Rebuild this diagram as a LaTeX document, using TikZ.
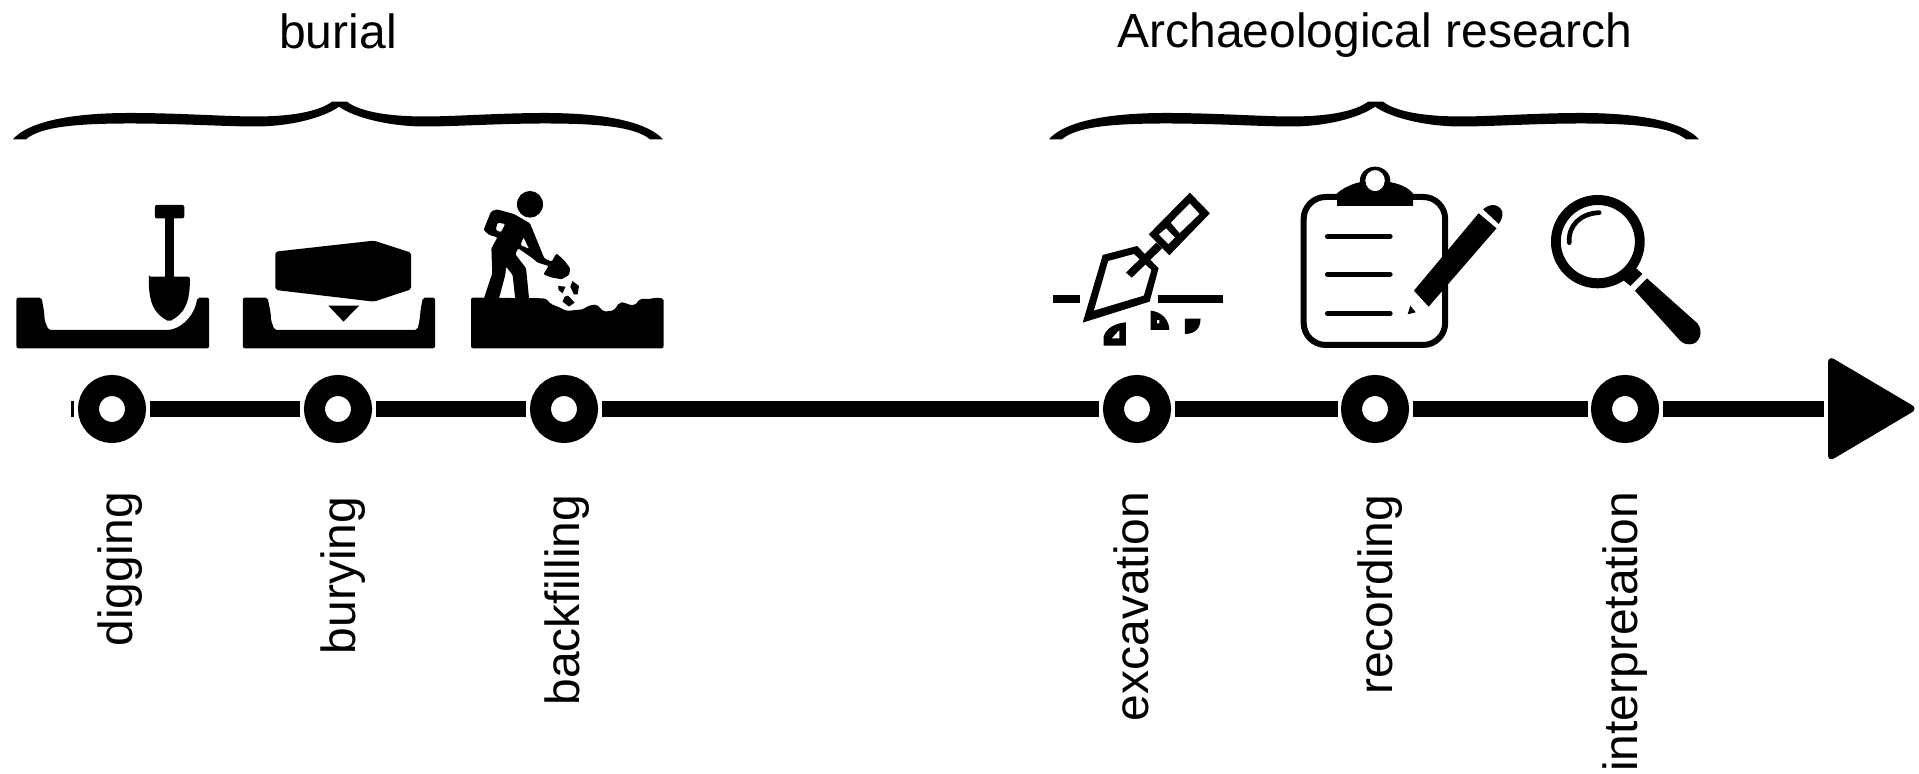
\documentclass[tikz,border=0pt]{standalone}
\usepackage{fontspec}
\setmainfont{Liberation Sans}
\usepackage{tikz}
\usetikzlibrary{arrows.meta,positioning,calc}

\begin{document}
\begin{tikzpicture}[
  x=0.01cm, y=-0.01cm,
  stop/.style={circle, draw=black, line width=0.21cm, fill=white, minimum size=0.47cm, inner sep=0pt},
  axis/.style={line width=0.166cm, shorten >=0.035cm, shorten <=0.035cm},
  phase/.style={font=\fontsize{13.65}{16}\selectfont, anchor=base, inner sep=0pt},
  lab/.style={font=\fontsize{13.65}{16}\selectfont, rotate=90, anchor=base east, inner sep=0pt},
  icon/.style={fill=black, rounded corners=0.02cm},
  thin line/.style={draw=black, line width=0.047cm, line cap=round}
]
\useasboundingbox (0,0) rectangle (1919,774);

% Timeline stops
\foreach \name/\x/\bx/\by in {digging/112/132.3/491,burying/338/355.5/496,backfilling/564/579.3/494,excavation/1137/1148.2/491,recording/1375/1392.9/494,interpretation/1625/1637.5/491} {
  \node[stop] (\name) at (\x,409) {};
  \node[lab] (lab-\name) at (\bx,\by) {\name};
}
\coordinate (tail) at (67.2,409);
\coordinate (tip) at (1827.5,409);

% Shift arrows
\foreach \a/\b in {tail/digging,digging/burying,burying/backfilling,backfilling/excavation,excavation/recording,recording/interpretation,interpretation/tip} {
  \draw[axis] (\a) -- (\b);
}
\fill[rounded corners=0.07cm] (1828,355.5) -- (1918,408.7) -- (1828,462) -- cycle;

% Phase titles
\node[phase] (burial) at (338,48.3) {burial};
\node[phase] (research) at (1375,47.7) {Archaeological research};

% Braces
\foreach \dx in {0,1036} {
  \fill[shift={(\dx,0)}] (13,139.3) .. controls (25,125) and (60,113) .. (130,113)
    .. controls (180,113) and (225,116.5) .. (255,116.5)
    .. controls (290,116.5) and (318,112) .. (332,101.7) -- (347,101.7)
    .. controls (360,112) and (390,116.5) .. (425,116.5)
    .. controls (455,116.5) and (500,113) .. (545,113)
    .. controls (615,113) and (650,125) .. (663,139.3) -- (650,139.3)
    .. controls (635,127) and (600,123.5) .. (545,123.5)
    .. controls (500,123.5) and (455,126.5) .. (425,126.5)
    .. controls (390,126.5) and (355,118) .. (339,106.7)
    .. controls (323,118) and (290,126.5) .. (255,126.5)
    .. controls (225,126.5) and (180,123.5) .. (130,123.5)
    .. controls (75,123.5) and (40,127) .. (26,139.3) -- cycle;
}

% Burial icons
\begin{scope}[shift={(0,180)}, xscale=0.4337, yscale=0.3333]
  % pit and spade
  \fill[icon] (38,353) -- (96,353) -- (102,398) -- (103,422) -- (112,450) -- (390,450)
    .. controls (425,440) and (450,400) .. (455,353) -- (482,353) -- (482,505) -- (38,505) -- cycle;
  \fill[icon] (357,75) rectangle (425,115);
  \fill (381,110) rectangle (401,295);
  \fill[icon] (343,290) -- (438,290) .. controls (438,370) and (425,400) .. (390,425)
    .. controls (355,400) and (343,370) .. (343,290) -- cycle;
  % pit and coffin
  \fill[icon] (560,353) -- (617,353) -- (624,398) -- (625,422) -- (633,450) -- (962,450) -- (967,425)
    -- (970,388) -- (975,353) -- (1003,353) -- (1003,505) -- (560,505) -- cycle;
  \fill[icon] (635,215) -- (862,182) -- (948,218) -- (948,328) -- (862,365) -- (635,330) -- cycle;
  \fill (757,377) -- (828,377) -- (792,425) -- cycle;
  % ground and worker
  \fill[icon] (1086,353) -- (1258,355) -- (1270,372) -- (1295,385) -- (1305,393) -- (1345,388) -- (1355,378)
    -- (1375,373) -- (1392,395) -- (1415,392) -- (1428,368) -- (1440,367) -- (1450,375) -- (1465,375)
    -- (1475,357) -- (1500,357) -- (1510,353) -- (1530,355) -- (1530,505) -- (1086,505) -- cycle;
  \fill (1222,73) ellipse [x radius=30, y radius=40];
  \fill[even odd rule, rounded corners=0.012cm] (1115,358) -- (1135,280) -- (1133,205) -- (1147,172) -- (1128,165) -- (1115,150)
    -- (1132,95) -- (1145,88) -- (1185,102) -- (1222,130) -- (1255,235) -- (1272,245) -- (1283,220)
    -- (1300,240) -- (1315,265) -- (1312,285) -- (1295,298) -- (1270,292) -- (1253,283) -- (1265,258)
    -- (1240,248) -- (1228,235) -- (1195,205) -- (1188,222) -- (1213,265) -- (1220,358) -- (1188,358)
    -- (1182,285) -- (1167,260) -- (1165,285) -- (1150,358) -- cycle
    (1147,128) -- (1165,132) -- (1155,157) -- (1143,150) -- cycle
    (1207,172) -- (1220,207) -- (1200,195) -- cycle;
  \fill (1287,318) -- (1304,320) -- (1297,340) -- (1288,330) -- cycle;
  \fill (1320,303) -- (1335,318) -- (1332,343) -- (1323,343) -- (1315,320) -- cycle;
  \fill (1310,347) -- (1325,368) -- (1312,380) -- (1297,365) -- (1302,350) -- cycle;
\end{scope}

% Research icons
\begin{scope}[shift={(1030,150)}, xscale=0.4464, yscale=0.3333]
  % trowel
  \fill (52,435) rectangle (113,458);
  \fill (286,435) rectangle (433,458);
  \fill[even odd rule] (163,315) -- (240,288) -- (288,355) -- (268,455) -- (118,518) -- cycle
    (175,333) -- (233,312) -- (272,360) -- (255,437) -- (143,482) -- cycle;
  \fill (215,368) -- (283,278) -- (296,295) -- (228,383) -- cycle;
  \fill[even odd rule] (358,128) -- (403,190) -- (312,316) -- (266,253) -- cycle
    (358,160) -- (380,192) -- (335,250) -- (315,218) -- cycle
    (305,235) -- (325,263) -- (310,283) -- (288,253) -- cycle;
  \fill[even odd rule] (215,517) -- (215,587) -- (165,587) -- (165,560) .. controls (170,535) and (190,520) .. (215,517) -- cycle
    (200,540) -- (200,565) -- (183,565) -- cycle;
  \fill[even odd rule] (270,482) -- (270,540) -- (312,540) .. controls (312,510) and (295,485) .. (270,482) -- cycle
    (284,510) -- (290,510) -- (290,520) -- (284,520) -- cycle;
  \fill (347,506) -- (382,506) .. controls (382,535) and (370,552) .. (347,552) -- cycle;
  % clipboard
  \draw[line width=0.06cm, rounded corners=0.22cm] (613,141) rectangle (930,585);
  \fill (688,168) -- (688,130) .. controls (705,110) and (725,100) .. (745,95) -- (800,95)
    .. controls (825,100) and (845,110) .. (858,130) -- (858,168) -- cycle;
  \fill[white] (773,92) ellipse [x radius=22, y radius=32];
  \fill[even odd rule] (773,92) ellipse [x radius=34, y radius=42] (773,92) ellipse [x radius=22, y radius=32];
  \foreach \y in {260,373,491} {
    \draw[thin line] (666,\y) -- (807,\y);
  }
  % pencil
  \fill (1005,190) -- (1045,235) -- (893,470) -- (860,422) -- cycle;
  \fill (1015,178) .. controls (1030,160) and (1050,160) .. (1058,185) .. controls (1060,200) and (1055,212) .. (1050,222) -- cycle;
  \fill (852,467) -- (864,487) -- (846,493) -- cycle;
  % magnifier
  \fill[even odd rule] (1272,275) ellipse [x radius=105, y radius=140] (1272,275) ellipse [x radius=83, y radius=110];
  \draw[thin line] (1208,278) .. controls (1205,225) and (1235,190) .. (1275,188);
  \fill (1358,355) -- (1372,372) -- (1345,408) -- (1330,392) -- cycle;
  \fill (1382,385) -- (1495,520) .. controls (1510,545) and (1500,583) .. (1478,583)
    .. controls (1468,583) and (1462,580) .. (1455,570) -- (1355,422) -- cycle;
\end{scope}
\end{tikzpicture}
\end{document}
